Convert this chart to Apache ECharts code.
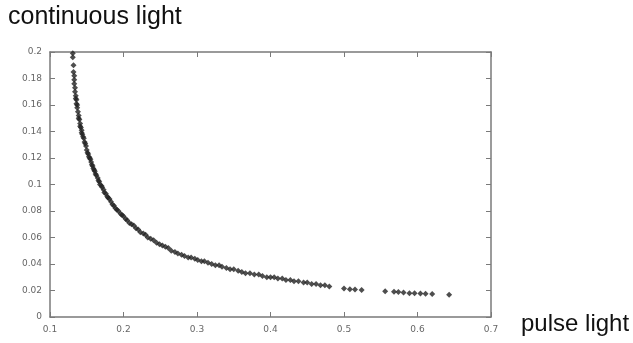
<!DOCTYPE html>
<html>
<head>
<meta charset="utf-8">
<script src="https://cdn.jsdelivr.net/npm/echarts@6/dist/echarts.min.js"></script>
<style>
  html, body { margin: 0; padding: 0; background: #fff; }
  #chart { width: 633px; height: 343px; }
</style>
</head>
<body>
<div id="chart"></div>
<script>
// axis ranges and labels
const xMin = 0.1, xMax = 0.7, xStep = 0.1;
const yMin = 0, yMax = 0.2, yStep = 0.02;

// pulse light values (x)
const pulseLight = [
  0.131, 0.131, 0.132, 0.133, 0.133, 0.134, 0.134, 0.135, 0.136, 0.136,
  0.137, 0.138, 0.139, 0.140, 0.141, 0.142, 0.143, 0.144, 0.146, 0.147,
  0.149, 0.150, 0.152, 0.154, 0.156, 0.158, 0.160, 0.162, 0.165, 0.167,
  0.170, 0.173, 0.176, 0.179, 0.183, 0.187, 0.191, 0.196, 0.200, 0.205,
  0.211, 0.217, 0.223, 0.230, 0.237, 0.245, 0.253, 0.261, 0.270, 0.279,
  0.288, 0.297, 0.306, 0.315, 0.325, 0.334, 0.345, 0.356, 0.366, 0.378,
  0.389, 0.400, 0.410, 0.421, 0.432, 0.445, 0.456, 0.468, 0.480, 0.500,
  0.508, 0.515, 0.524, 0.556, 0.568, 0.574, 0.581, 0.589, 0.596, 0.604,
  0.611, 0.620, 0.643,
  0.132, 0.133, 0.135, 0.137, 0.139, 0.141, 0.143, 0.145, 0.148, 0.151,
  0.153, 0.155, 0.157, 0.159, 0.161, 0.163, 0.166, 0.168, 0.171, 0.174,
  0.178, 0.181, 0.185, 0.189, 0.193, 0.198, 0.203, 0.208, 0.214, 0.220,
  0.227, 0.233, 0.241, 0.249, 0.257, 0.265, 0.274, 0.283, 0.292, 0.301,
  0.310, 0.320, 0.330, 0.340, 0.350, 0.361, 0.372, 0.384, 0.395, 0.405,
  0.416, 0.427, 0.438, 0.450, 0.462, 0.474
];

// continuous light values (y) for the same points
const continuousLight = [
  0.199, 0.196, 0.190, 0.179, 0.176, 0.173, 0.170, 0.167, 0.164, 0.161,
  0.158, 0.155, 0.152, 0.149, 0.146, 0.143, 0.141, 0.138, 0.135, 0.132,
  0.129, 0.126, 0.123, 0.120, 0.117, 0.114, 0.111, 0.108, 0.105, 0.102,
  0.099, 0.096, 0.093, 0.090, 0.087, 0.084, 0.081, 0.078, 0.076, 0.073,
  0.070, 0.067, 0.064, 0.062, 0.059, 0.056, 0.054, 0.052, 0.049, 0.047,
  0.045, 0.044, 0.042, 0.041, 0.039, 0.038, 0.036, 0.035, 0.033, 0.032,
  0.031, 0.030, 0.029, 0.028, 0.027, 0.026, 0.025, 0.024, 0.023, 0.0215,
  0.021, 0.0207, 0.0203, 0.0195, 0.019, 0.0188, 0.0185, 0.018, 0.018, 0.0178,
  0.0175, 0.0173, 0.0168,
  0.185, 0.182, 0.165, 0.160, 0.150, 0.144, 0.139, 0.136, 0.131, 0.124,
  0.121, 0.119, 0.115, 0.112, 0.110, 0.107, 0.103, 0.100, 0.098, 0.094,
  0.091, 0.089, 0.085, 0.082, 0.080, 0.077, 0.074, 0.071, 0.069, 0.066,
  0.063, 0.060, 0.058, 0.055, 0.053, 0.050, 0.048, 0.046, 0.045, 0.043,
  0.042, 0.040, 0.039, 0.037, 0.036, 0.034, 0.033, 0.032, 0.030, 0.030,
  0.029, 0.028, 0.027, 0.026, 0.025, 0.024
];

const points = pulseLight.map((x, i) => [x, continuousLight[i]]);

const axisColor = '#7a7a7a';
const labelStyle = { color: '#666', fontSize: 9, fontFamily: 'DejaVu Sans' };

const chart = echarts.init(document.getElementById('chart'), null, { renderer: 'canvas' });

const frameAxis = (extra) => Object.assign({
  type: 'value',
  axisLine: { show: true, onZero: false, lineStyle: { color: axisColor, width: 1.5 } },
  axisTick: { show: true, inside: true, length: 5, lineStyle: { color: axisColor, width: 1 } },
  splitLine: { show: false }
}, extra);

chart.setOption({
  animation: false,
  backgroundColor: '#fff',
  grid: { left: 50, top: 52, right: 142, bottom: 26 },
  xAxis: [
    frameAxis({
      min: xMin, max: xMax, interval: xStep, position: 'bottom',
      axisLabel: Object.assign({ margin: 8, formatter: v => +v.toFixed(1) }, labelStyle)
    }),
    frameAxis({
      min: xMin, max: xMax, interval: xStep, position: 'top',
      axisLabel: { show: false }
    })
  ],
  yAxis: [
    frameAxis({
      min: yMin, max: yMax, interval: yStep, position: 'left',
      axisLabel: Object.assign({ margin: 8, formatter: v => +v.toFixed(2) }, labelStyle)
    }),
    frameAxis({
      min: yMin, max: yMax, interval: yStep, position: 'right',
      axisLabel: { show: false }
    })
  ],
  series: [{
    type: 'scatter',
    data: points,
    symbol: 'diamond',
    symbolSize: 6,
    itemStyle: { color: '#222', opacity: 0.8 }
  }],
  graphic: [
    {
      type: 'text', left: 8, top: 5,
      style: { text: 'continuous light', fill: '#111', font: '25px "Liberation Sans", Arial, sans-serif' }
    },
    {
      type: 'text', left: 521, top: 312,
      style: { text: 'pulse light', fill: '#111', font: '24px "Liberation Sans", Arial, sans-serif' }
    }
  ]
});
</script>
</body>
</html>
